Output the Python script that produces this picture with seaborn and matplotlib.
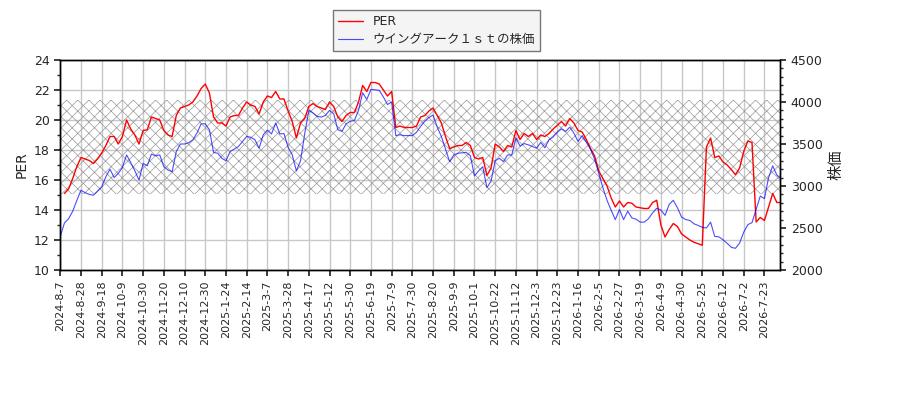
import numpy as np
import pandas as pd
import matplotlib
matplotlib.use('Agg')
import matplotlib.pyplot as plt
import seaborn as sns
from matplotlib.ticker import MultipleLocator

# tick labels every 15 trading days
tick_labels = ['2024-8-7', '2024-8-28', '2024-9-18', '2024-10-9', '2024-10-30', '2024-11-20',
               '2024-12-10', '2024-12-30', '2025-1-24', '2025-2-14', '2025-3-7', '2025-3-28',
               '2025-4-17', '2025-5-12', '2025-5-30', '2025-6-19', '2025-7-9', '2025-7-30',
               '2025-8-20', '2025-9-9', '2025-10-1', '2025-10-22', '2025-11-12', '2025-12-3',
               '2025-12-23', '2026-1-16', '2026-2-5', '2026-2-27', '2026-3-19', '2026-4-9',
               '2026-4-30', '2026-5-25', '2026-6-12', '2026-7-2', '2026-7-23']

# values read every 3 trading days
per = [np.nan, 15.1, 15.4, 16.1, 16.9, 17.5, 17.4, 17.3, 17.1, 17.4,
       17.8, 18.3, 18.9, 18.9, 18.4, 18.9, 20.0, 19.4, 19.0, 18.4,
       19.3, 19.35, 20.2, 20.1, 20.0, 19.3, 19.0, 18.9, 20.3, 20.8,
       20.9, 21.0, 21.2, 21.6, 22.1, 22.4, 21.8, 20.2, 19.8, 19.8,
       19.6, 20.2, 20.3, 20.3, 20.8, 21.2, 21.0, 20.9, 20.4, 21.2,
       21.6, 21.5, 21.9, 21.4, 21.4, 20.6, 19.9, 18.8, 19.8, 20.1,
       20.9, 21.1, 20.9, 20.8, 20.7, 21.2, 20.9, 20.2, 19.9, 20.3,
       20.5, 20.5, 21.2, 22.3, 21.9, 22.5, 22.5, 22.4, 22.0, 21.6,
       21.9, 19.5, 19.6, 19.5, 19.5, 19.5, 19.6, 20.2, 20.3, 20.6,
       20.8, 20.3, 19.8, 18.9, 18.1, 18.2, 18.3, 18.3, 18.5, 18.3,
       17.5, 17.4, 17.5, 16.3, 16.8, 18.4, 18.2, 17.9, 18.3, 18.2,
       19.3, 18.7, 19.1, 18.9, 19.1, 18.7, 19.0, 18.9, 19.1, 19.4,
       19.65, 19.9, 19.6, 20.1, 19.8, 19.3, 19.2, 18.7, 18.1, 17.6,
       16.6, 16.1, 15.6, 14.8, 14.2, 14.6, 14.2, 14.5, 14.45, 14.2,
       14.15, 14.1, 14.1, 14.5, 14.65, 13.0, 12.2, 12.7, 13.1, 12.9,
       12.4, 12.2, 12.0, 11.85, 11.75, 11.65, 18.2, 18.8, 17.5, 17.6,
       17.2, 17.0, 16.7, 16.35, 16.8, 17.9, 18.6, 18.5, 13.2, 13.5,
       13.3, 14.2, 15.1, 14.5, 14.5]

price = [2400, 2560, 2610, 2700, 2830, 2950, 2920, 2900, 2890, 2940,
         2990, 3110, 3200, 3100, 3150, 3220, 3370, 3280, 3180, 3070,
         3270, 3240, 3380, 3360, 3370, 3230, 3190, 3170, 3410, 3500,
         3500, 3515, 3550, 3630, 3740, 3740, 3670, 3400, 3390, 3330,
         3300, 3410, 3440, 3470, 3530, 3590, 3580, 3550, 3450, 3610,
         3665, 3620, 3750, 3620, 3625, 3460, 3370, 3180, 3300, 3620,
         3900, 3870, 3830, 3820, 3840, 3900, 3860, 3670, 3650, 3740,
         3770, 3780, 3900, 4110, 4030, 4150, 4146, 4138, 4060, 3970,
         4000, 3600, 3610, 3600, 3600, 3600, 3640, 3710, 3770, 3815,
         3845, 3700, 3590, 3440, 3290, 3370, 3390, 3395, 3400, 3360,
         3120, 3180, 3230, 2980, 3060, 3300, 3330, 3290, 3370, 3370,
         3570, 3475, 3505, 3490, 3470, 3450, 3520, 3455, 3550, 3585,
         3640, 3680, 3650, 3700, 3630, 3530, 3600, 3520, 3440, 3320,
         3150, 2980, 2830, 2710, 2600, 2720, 2600, 2700, 2620, 2605,
         2570, 2570, 2610, 2680, 2735, 2715, 2650, 2780, 2830, 2740,
         2630, 2600, 2590, 2550, 2530, 2508, 2500, 2570, 2400, 2395,
         2360, 2318, 2270, 2258, 2320, 2450, 2540, 2564, 2720, 2880,
         2850, 3100, 3240, 3130, 3090]

band_low, band_high = 15.05, 21.33

step = 3
df = pd.DataFrame({'day': np.arange(len(per)) * step, 'PER': per, 'price': price})

sns.set_theme(style='white')
plt.rcParams['font.family'] = ['DejaVu Sans', 'Noto Sans CJK JP']
plt.rcParams['hatch.linewidth'] = 0.5

fig, ax1 = plt.subplots(figsize=(9, 4), dpi=100)
fig.subplots_adjust(left=0.067, right=0.867, top=0.85, bottom=0.325)
ax2 = ax1.twinx()

ax1.fill_between(df['day'], band_low, band_high, facecolor='none',
                 edgecolor='#999999', hatch='xxx', linewidth=0)

sns.lineplot(data=df, x='day', y='PER', ax=ax1, color='red', lw=1, label='PER', legend=False)
sns.lineplot(data=df, x='day', y='price', ax=ax2, color='blue', lw=0.8, alpha=0.7,
             label='ウイングアーク１ｓｔの株価', legend=False)

ax1.set_xlim(0, 521.5)
ax1.set_ylim(10, 24)
ax2.set_ylim(2000, 4500)
ax1.yaxis.set_major_locator(MultipleLocator(2))
ax1.yaxis.set_minor_locator(MultipleLocator(1))
ax2.yaxis.set_major_locator(MultipleLocator(500))
ax2.yaxis.set_minor_locator(MultipleLocator(100))

ax1.set_xticks(np.arange(len(tick_labels)) * 15)
ax1.set_xticklabels(tick_labels, rotation=90, fontsize=8)
ax1.tick_params(axis='y', labelsize=9, length=4, left=True, which='major')
ax1.tick_params(axis='y', which='minor', length=2, left=True)
ax1.tick_params(axis='x', length=4, bottom=True)
ax2.tick_params(axis='y', labelsize=9, length=4, right=True, which='major')
ax2.tick_params(axis='y', which='minor', length=2, right=True)

ax1.grid(True, color='#c8c8c8', lw=1)
ax1.set_axisbelow(True)
ax1.set_xlabel('')
ax1.set_ylabel('PER', fontsize=10)
ax2.set_ylabel('株価', fontsize=11)

for ax in (ax1, ax2):
    for s in ax.spines.values():
        s.set_color('black')
        s.set_linewidth(1)

h1, l1 = ax1.get_legend_handles_labels()
h2, l2 = ax2.get_legend_handles_labels()
fig.legend(h1 + h2, l1 + l2, loc='upper center', bbox_to_anchor=(0.485, 0.99),
           fancybox=False, edgecolor='#777777', facecolor='#f4f4f4', framealpha=1,
           fontsize=9, labelspacing=0.4)

fig.savefig('out.png', dpi=100)
